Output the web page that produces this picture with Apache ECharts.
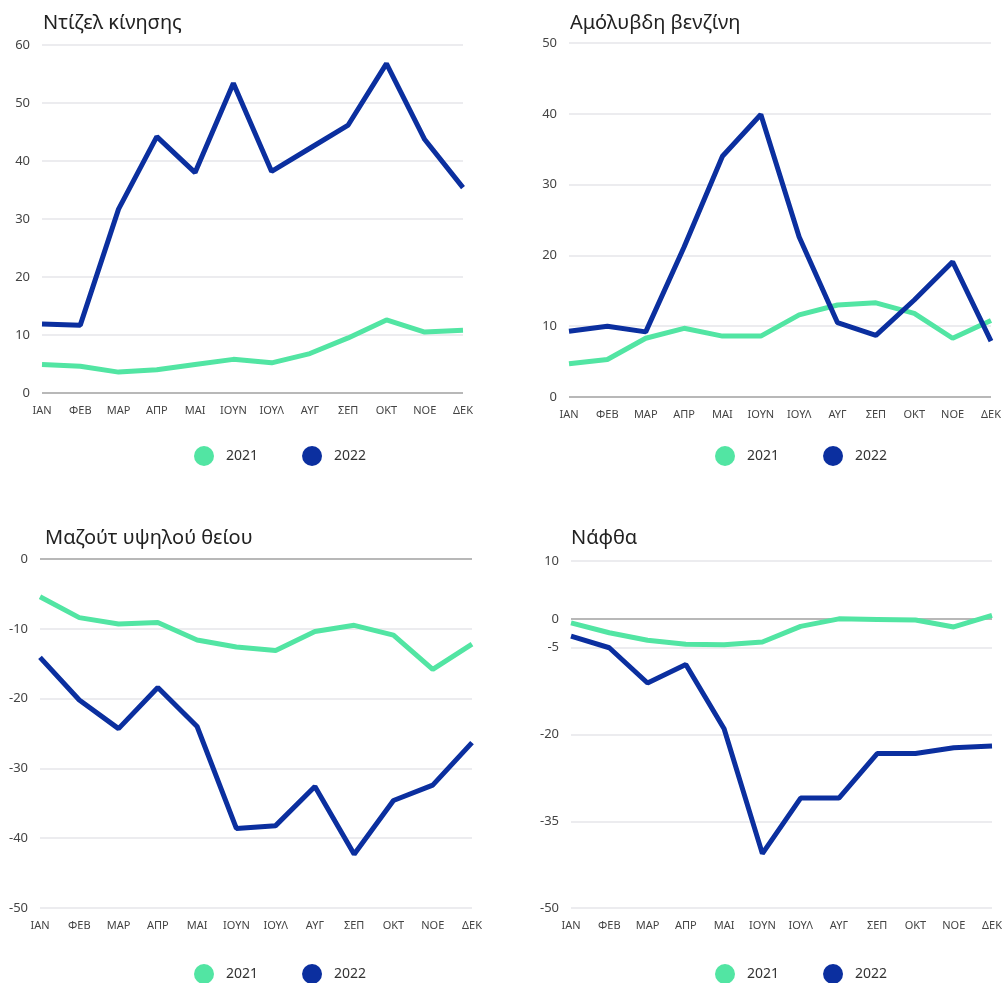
<!DOCTYPE html>
<html lang="el">
<head>
<meta charset="utf-8">
<title>Μεταβολή τιμών καυσίμων</title>
<script src="https://cdn.jsdelivr.net/npm/echarts@6.0.0/dist/echarts.min.js"></script>
<style>
  html, body { margin: 0; padding: 0; background: #fff; }
  #wrap { position: relative; width: 1008px; height: 983px; }
  .panel { position: absolute; width: 504px; }
  #chart-ntizel { left: 0; top: 0; height: 515px; }
  #chart-amolyvdi { left: 504px; top: 0; height: 515px; }
  #chart-mazout { left: 0; top: 515px; height: 468px; }
  #chart-nafta { left: 504px; top: 515px; height: 468px; }
</style>
</head>
<body>
<div id="wrap">
  <div id="chart-ntizel" class="panel"></div>
  <div id="chart-amolyvdi" class="panel"></div>
  <div id="chart-mazout" class="panel"></div>
  <div id="chart-nafta" class="panel"></div>
</div>
<script>
// Μήνες
const mines = ['ΙΑΝ', 'ΦΕΒ', 'ΜΑΡ', 'ΑΠΡ', 'ΜΑΙ', 'ΙΟΥΝ', 'ΙΟΥΛ', 'ΑΥΓ', 'ΣΕΠ', 'ΟΚΤ', 'ΝΟΕ', 'ΔΕΚ'];
const etiketes = ['2021', '2022'];

// Ντίζελ κίνησης
const ntizel2021 = [4.9, 4.6, 3.6, 4.0, 4.9, 5.8, 5.2, 6.8, 9.5, 12.6, 10.5, 10.8];
const ntizel2022 = [11.9, 11.7, 31.7, 44.2, 38.0, 53.4, 38.2, 42.2, 46.2, 56.8, 43.7, 35.4];

// Αμόλυβδη βενζίνη
const amolyvdi2021 = [4.7, 5.3, 8.3, 9.7, 8.6, 8.6, 11.6, 13.0, 13.3, 11.8, 8.3, 10.8];
const amolyvdi2022 = [9.3, 10.0, 9.2, 21.2, 34.0, 39.9, 22.6, 10.5, 8.7, 13.7, 19.1, 7.9];

// Μαζούτ υψηλού θείου
const mazout2021 = [-5.4, -8.4, -9.3, -9.1, -11.6, -12.6, -13.1, -10.4, -9.5, -10.9, -15.8, -12.2];
const mazout2022 = [-14.1, -20.2, -24.3, -18.4, -24.0, -38.6, -38.2, -32.6, -42.3, -34.6, -32.4, -26.3];

// Νάφθα
const nafta2021 = [-0.7, -2.4, -3.7, -4.4, -4.5, -4.0, -1.3, 0.0, -0.1, -0.2, -1.4, 0.6];
const nafta2022 = [-3.0, -5.0, -11.1, -7.9, -19.0, -40.6, -31.0, -31.0, -23.3, -23.3, -22.3, -22.0];
const naftaTicks = [-50, -35, -20, -5, 0, 10];

const PRASINO = '#52e5a3';
const BLE = '#0b2f9f';
const GRAMMATOSEIRA = '"Noto Sans", "DejaVu Sans", sans-serif';

/**
 * Ένα γράφημα γραμμών για κάθε καύσιμο
 */
function renderPanel(id, cfg) {
  const chart = echarts.init(document.getElementById(id), null, { renderer: 'canvas' });

  // Η γραμμή του μηδενός είναι πιο σκούρα από τις υπόλοιπες
  const lineColors = cfg.gridColors;

  const yAxis = {
    type: 'value',
    min: cfg.min,
    max: cfg.max,
    axisLine: { show: false },
    axisTick: { show: false },
    axisLabel: {
      color: '#444',
      fontSize: 13,
      fontFamily: GRAMMATOSEIRA,
      margin: 12
    },
    splitLine: {
      lineStyle: { color: lineColors, width: 1.5 }
    }
  };
  if (cfg.ticks) {
    yAxis.axisLabel.customValues = cfg.ticks;
    yAxis.axisTick.customValues = cfg.ticks;
  } else {
    yAxis.interval = cfg.interval;
  }

  const option = {
    animation: false,
    title: {
      text: cfg.title,
      left: cfg.titleLeft,
      top: 8,
      textStyle: {
        fontFamily: GRAMMATOSEIRA,
        fontSize: 20,
        fontWeight: 'normal',
        color: '#222'
      }
    },
    legend: {
      data: etiketes,
      left: cfg.legendLeft,
      top: cfg.legendTop,
      icon: 'circle',
      itemWidth: 20,
      itemHeight: 20,
      itemGap: 44,
      textStyle: {
        fontFamily: GRAMMATOSEIRA,
        fontSize: 14,
        color: '#333',
        padding: [0, 0, 0, 7]
      }
    },
    grid: cfg.grid,
    xAxis: {
      type: 'category',
      data: mines,
      boundaryGap: false,
      axisLine: { show: false },
      axisTick: { show: false },
      axisLabel: {
        color: '#444',
        fontSize: 11,
        fontFamily: GRAMMATOSEIRA,
        margin: 12,
        interval: 0
      }
    },
    yAxis: yAxis,
    series: [
      {
        name: '2021',
        type: 'line',
        data: cfg.data2021,
        symbol: 'none',
        itemStyle: { color: PRASINO },
        lineStyle: { color: PRASINO, width: 5 }
      },
      {
        name: '2022',
        type: 'line',
        data: cfg.data2022,
        symbol: 'none',
        itemStyle: { color: BLE },
        lineStyle: { color: BLE, width: 5 }
      }
    ]
  };

  chart.setOption(option);
  return chart;
}

const SKOURO = '#a0a0a0';
const ANOIXTO = '#e6e6ea';

renderPanel('chart-ntizel', {
  title: 'Ντίζελ κίνησης',
  titleLeft: 38,
  min: 0, max: 60, interval: 10,
  gridColors: [SKOURO, ANOIXTO, ANOIXTO, ANOIXTO, ANOIXTO, ANOIXTO, ANOIXTO],
  grid: { left: 42, right: 41, top: 45, bottom: 122 },
  legendLeft: 189, legendTop: 441,
  data2021: ntizel2021,
  data2022: ntizel2022
});

renderPanel('chart-amolyvdi', {
  title: 'Αμόλυβδη βενζίνη',
  titleLeft: 61,
  min: 0, max: 50, interval: 10,
  gridColors: [SKOURO, ANOIXTO, ANOIXTO, ANOIXTO, ANOIXTO, ANOIXTO],
  grid: { left: 65, right: 17, top: 43, bottom: 118 },
  legendLeft: 206, legendTop: 441,
  data2021: amolyvdi2021,
  data2022: amolyvdi2022
});

renderPanel('chart-mazout', {
  title: 'Μαζούτ υψηλού θείου',
  titleLeft: 40,
  min: -50, max: 0, interval: 10,
  gridColors: [ANOIXTO, ANOIXTO, ANOIXTO, ANOIXTO, ANOIXTO, SKOURO],
  grid: { left: 40, right: 32, top: 44, bottom: 75 },
  legendLeft: 189, legendTop: 444,
  data2021: mazout2021,
  data2022: mazout2022
});

renderPanel('chart-nafta', {
  title: 'Νάφθα',
  titleLeft: 62,
  min: -50, max: 10, ticks: naftaTicks,
  gridColors: [ANOIXTO, ANOIXTO, ANOIXTO, ANOIXTO, SKOURO, ANOIXTO],
  grid: { left: 67, right: 16, top: 46, bottom: 75 },
  legendLeft: 206, legendTop: 444,
  data2021: nafta2021,
  data2022: nafta2022
});
</script>
</body>
</html>
